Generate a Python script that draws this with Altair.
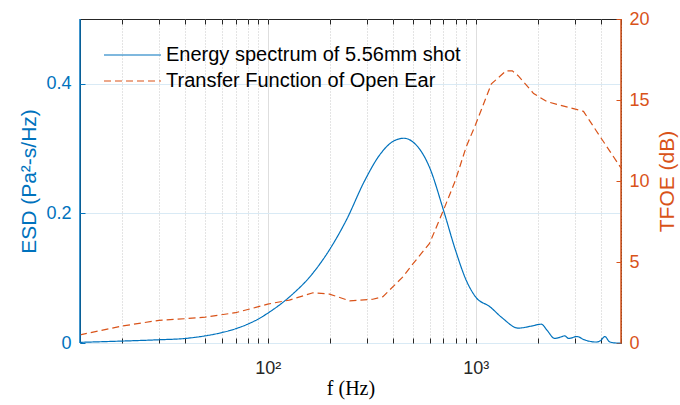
import altair as alt
import pandas as pd

S1 = "Energy spectrum of 5.56mm shot"
S2 = "Transfer Function of Open Ear"

BLUE = "#0072BD"
ORANGE = "#D95319"

esd_freq = [12.5, 20, 30, 40, 50, 60, 70, 80, 90, 100, 127, 165, 200, 239, 292, 345,
            400, 452, 500, 600, 700, 800, 900, 1000, 1170, 1350, 1600, 1850, 2070,
            2200, 2400, 2550, 2680, 2800, 3070, 3330, 3800, 4000, 4180, 4400, 4740, 5000]
esd_val = [0.001, 0.003, 0.005, 0.007, 0.011, 0.016, 0.022, 0.029, 0.037, 0.046, 0.071,
           0.108, 0.146, 0.190, 0.250, 0.290, 0.311, 0.316, 0.310, 0.271, 0.205,
           0.143, 0.097, 0.071, 0.056, 0.038, 0.023, 0.026, 0.029, 0.020, 0.007,
           0.009, 0.011, 0.007, 0.010, 0.005, 0.0015, 0.004, 0.010, 0.002, 0.0, 0.0]

tf_freq = [12.5, 20, 30, 40, 50, 70, 82, 100, 127, 165, 198, 248, 320, 358, 448,
           500, 600, 700, 800, 900, 1000, 1190, 1400, 1500, 1600, 1900, 2200, 3300,
           3800, 5000]
tf_val = [0.5, 1.05, 1.4, 1.5, 1.6, 1.87, 2.1, 2.4, 2.65, 3.1, 3.02, 2.6, 2.7, 2.86,
          4.1, 4.9, 6.15, 8.2, 10.06, 12.1, 13.5, 16.0, 16.8, 16.8, 16.5, 15.4, 14.9,
          14.3, 13.1, 10.8]

x_ticks = [20, 30, 40, 50, 60, 70, 80, 90, 100, 200, 300, 400, 500, 600, 700, 800,
           900, 1000, 2000, 3000, 4000, 5000]
esd_ticks = [0, 0.2, 0.4]
tf_ticks = [0, 5, 10, 15, 20]

esd_df = pd.DataFrame({"f": esd_freq, "v": esd_val, "series": S1})
tf_df = pd.DataFrame({"f": tf_freq, "v": tf_val, "series": S2})

FONT = "Liberation Sans"
major_test = "datum.value == 100 || datum.value == 1000"

x_scale = alt.Scale(type="log", domain=[12.5, 5000], nice=False)
color_scale = alt.Scale(domain=[S1, S2], range=[BLUE, ORANGE])
dash_scale = alt.Scale(domain=[S1, S2], range=[[1, 0], [7, 4]])

legend = alt.Legend(
    title=None, orient="none", legendX=23, legendY=26, symbolType="stroke",
    symbolSize=3249, symbolStrokeWidth=1.2, labelFont=FONT, labelFontSize=20,
    labelColor="#000000", labelOffset=4, clipHeight=20, rowPadding=6, padding=0,
    labelLimit=400,
)

x_bottom = alt.X(
    "f:Q", scale=x_scale,
    axis=alt.Axis(
        orient="bottom", values=x_ticks,
        labelExpr="datum.value == 100 ? '10²' : (datum.value == 1000 ? '10³' : '')",
        offset=-5, domain=False, ticks=True, tickSize=5, tickColor="#262626",
        tickWidth=1, grid=True,
        gridColor={"condition": {"test": major_test, "value": "#dedede"}, "value": "#c8c8c8"},
        gridDash={"condition": {"test": major_test, "value": []}, "value": [1, 2]},
        labelFont=FONT, labelFontSize=18, labelColor="#262626", labelPadding=16,
        labelFlush=False, labelOverlap=False,
        title="f  (Hz)", titleFont="Liberation Serif", titleFontSize=20,
        titleFontWeight="normal", titleColor="#000000", titlePadding=1,
    ),
)

x_top = alt.X(
    "f:Q", scale=x_scale,
    axis=alt.Axis(
        orient="top", values=x_ticks, offset=-5, domain=False, labels=False,
        ticks=True, tickSize=5, tickColor="#262626", grid=False, title=None,
    ),
)

blue = alt.Chart(esd_df).mark_line(strokeWidth=1.2, interpolate="monotone").encode(
    x=x_bottom,
    y=alt.Y(
        "v:Q", scale=alt.Scale(domain=[0, 0.5], nice=False),
        axis=alt.Axis(
            orient="left", values=esd_ticks, format="~g", offset=-5, domain=False,
            tickSize=5, tickColor=BLUE, labelColor=BLUE, labelFont=FONT,
            labelFontSize=18, labelPadding=9, grid=True, gridColor="#d9eaf5",
            title="ESD (Pa²-s/Hz)", titleColor=BLUE, titleFont=FONT,
            titleFontSize=21, titleFontWeight="normal", titlePadding=6,
        ),
    ),
    color=alt.Color("series:N", scale=color_scale, legend=legend),
    strokeDash=alt.StrokeDash("series:N", scale=dash_scale, legend=legend),
)

orange = alt.Chart(tf_df).mark_line(strokeWidth=1.2).encode(
    x=x_top,
    y=alt.Y(
        "v:Q", scale=alt.Scale(domain=[0, 20], nice=False),
        axis=alt.Axis(
            orient="right", values=tf_ticks, offset=-5, domain=False,
            tickSize=5, tickColor=ORANGE, labelColor=ORANGE, labelFont=FONT,
            labelFontSize=18, labelPadding=8, grid=False,
            title="TFOE (dB)", titleColor=ORANGE, titleFont=FONT,
            titleFontSize=21, titleFontWeight="normal", titleAngle=270,
            titleBaseline="top", titlePadding=7,
        ),
    ),
    color=alt.Color("series:N", scale=color_scale, legend=legend),
    strokeDash=alt.StrokeDash("series:N", scale=dash_scale, legend=legend),
)

frame_df = pd.DataFrame({"k": [0]})
left_rule = alt.Chart(frame_df).mark_rule(color=BLUE, strokeWidth=1.5).encode(
    x=alt.value(0), y=alt.value(0), y2=alt.value(324)
)
right_rule = alt.Chart(frame_df).mark_rule(color=ORANGE, strokeWidth=1.5).encode(
    x=alt.value(541), y=alt.value(0), y2=alt.value(324)
)

chart = (
    alt.layer(blue, orange, left_rule, right_rule)
    .resolve_scale(y="independent")
    .resolve_axis(x="independent")
    .properties(
        width=541, height=324,
        autosize=alt.AutoSizeParams(type="none"),
        padding={"left": 80, "top": 19, "right": 59, "bottom": 62},
        background="white",
    )
    .configure_view(stroke="#262626", strokeWidth=1)
)

chart.save("out.html", embed_options={"renderer": "svg", "actions": False})
